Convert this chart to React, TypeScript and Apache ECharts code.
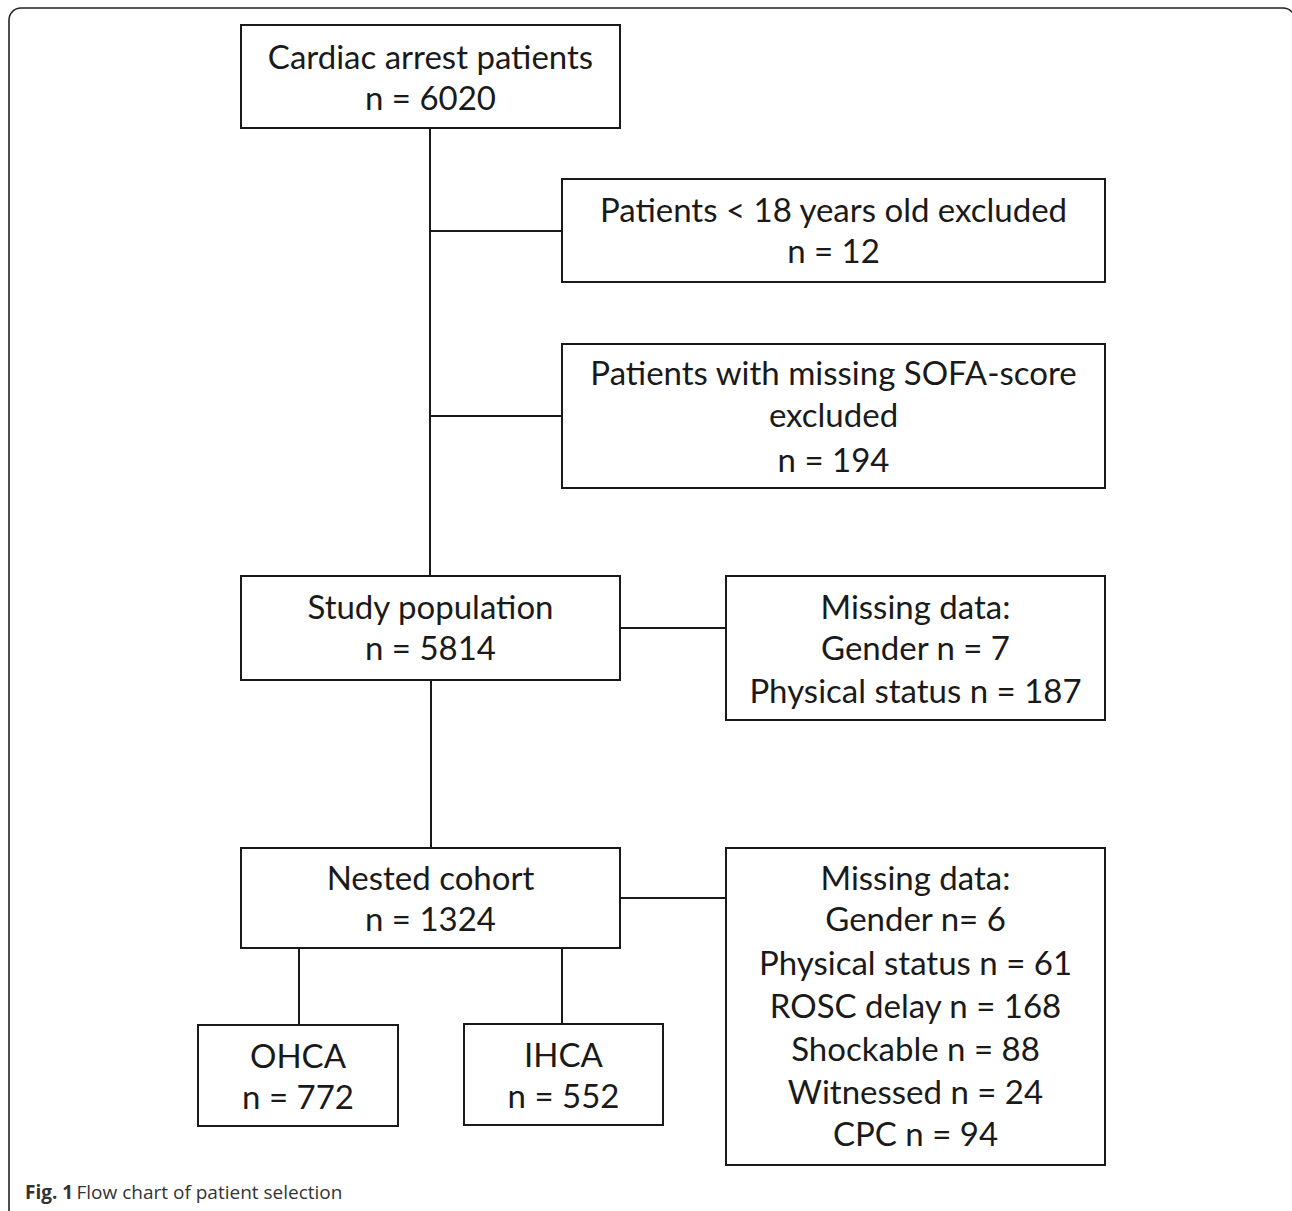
import React, { useEffect, useRef } from "react";
import * as echarts from "echarts";

// ---- Data (box labels and counts) ----
const boxTitles: string[] = [
  "Cardiac arrest patients",
  "Patients < 18 years old excluded",
  "Patients with missing SOFA-score\nexcluded",
  "Study population",
  "Missing data:",
  "Nested cohort",
  "Missing data:",
  "OHCA",
  "IHCA",
];
const boxCounts: string[] = [
  "n = 6020",
  "n = 12",
  "n = 194",
  "n = 5814",
  "",
  "n = 1324",
  "",
  "n = 772",
  "n = 552",
];
const missingStudy: string[] = ["Gender n = 7", "Physical status n = 187"];
const missingNested: string[] = [
  "Gender n= 6",
  "Physical status n = 61",
  "ROSC delay n = 168",
  "Shockable n = 88",
  "Witnessed n = 24",
  "CPC n = 94",
];
const captionBold = "Fig. 1";
const captionText = "Flow chart of patient selection";

// ---- Layout (positions/sizes) ----
const boxRects: [number, number, number, number][] = [
  [241, 25, 379, 103],
  [562, 179, 543, 103],
  [562, 344, 543, 144],
  [241, 576, 379, 104],
  [726, 576, 379, 144],
  [241, 848, 379, 100],
  [726, 848, 379, 317],
  [198, 1025, 200, 101],
  [464, 1024, 199, 101],
];
const lineY: number[][] = [
  [57, 98],
  [210, 251],
  [373, 415, 460],
  [607, 648],
  [607, 648, 691],
  [878, 919],
  [878, 919, 963, 1006, 1049, 1092, 1134],
  [1056, 1097],
  [1055, 1096],
];
const connectors: [number, number, number, number][] = [
  [430, 128, 430, 576],
  [430, 231, 562, 231],
  [430, 416, 562, 416],
  [620, 628, 726, 628],
  [431, 680, 431, 848],
  [620, 898, 726, 898],
  [299, 948, 299, 1025],
  [562, 948, 562, 1024],
];

const FONT = "Lato";
const FS = 33;
const INK = "#1a1a1a";

function boxLines(i: number): string[] {
  const lines = boxTitles[i].split("\n");
  if (i === 4) return lines.concat(missingStudy);
  if (i === 6) return lines.concat(missingNested);
  if (boxCounts[i]) lines.push(boxCounts[i]);
  return lines;
}

export default function App() {
  const ref = useRef<HTMLDivElement>(null);
  useEffect(() => {
    if (!ref.current) return;
    const chart = echarts.init(ref.current, null, { renderer: "svg" });
    const elements: any[] = [];
    // outer frame
    elements.push({
      type: "rect",
      shape: { x: 9, y: 8, width: 1286, height: 1215, r: 12 },
      style: { fill: "none", stroke: "#222", lineWidth: 1.6 },
    });
    connectors.forEach((c) => {
      elements.push({
        type: "line",
        shape: { x1: c[0], y1: c[1], x2: c[2], y2: c[3] },
        style: { stroke: INK, lineWidth: 2 },
      });
    });
    boxRects.forEach((r, i) => {
      elements.push({
        type: "rect",
        shape: { x: r[0], y: r[1], width: r[2], height: r[3] },
        style: { fill: "#fff", stroke: INK, lineWidth: 2 },
      });
      const lines = boxLines(i);
      lines.forEach((t, k) => {
        elements.push({
          type: "text",
          x: r[0] + r[2] / 2,
          y: lineY[i][k] - 1,
          style: {
            text: t,
            fill: INK,
            font: `${FS}px ${FONT}`,
            align: "center",
            verticalAlign: "middle",
          },
        });
      });
    });
    elements.push({
      type: "text",
      x: 25,
      y: 1192,
      style: {
        text: `{b|${captionBold}} {n|${captionText}}`,
        verticalAlign: "middle",
        rich: {
          b: { fontFamily: "Open Sans", fontSize: 19, fontWeight: "bold", fill: "#333" },
          n: { fontFamily: "Open Sans", fontSize: 19, fill: "#333" },
        },
      },
    });
    chart.setOption({
      animation: false,
      backgroundColor: "#fff",
      graphic: { elements },
    });
    return () => chart.dispose();
  }, []);
  return (
    <div
      ref={ref}
      style={{ position: "absolute", left: 0, top: 0, width: 1292, height: 1211 }}
    />
  );
}
